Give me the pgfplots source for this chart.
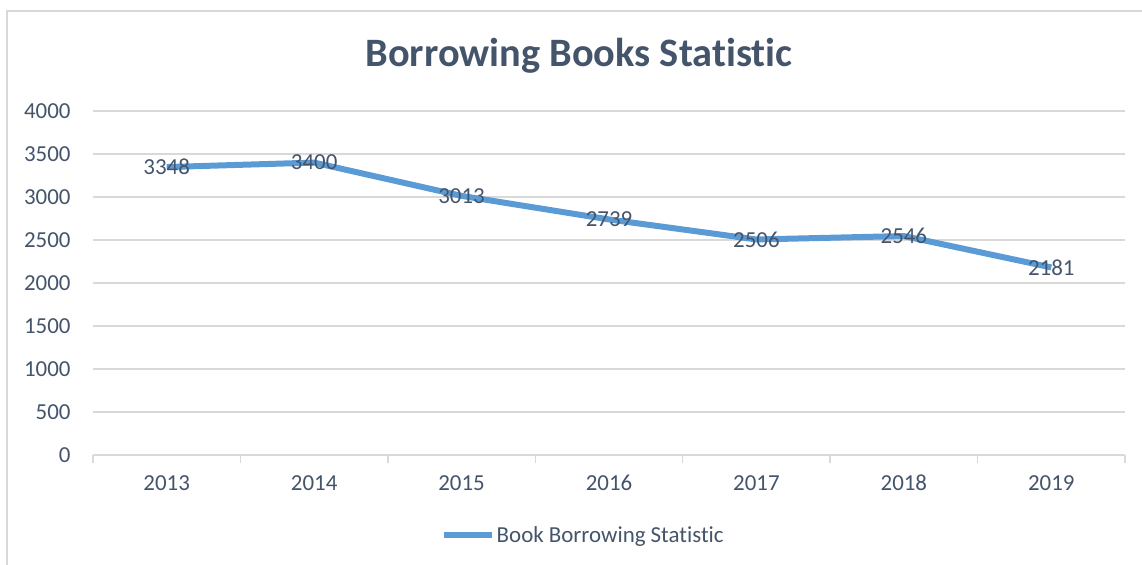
\documentclass[border=0pt]{standalone}
\usepackage{fontspec}
\setmainfont{Carlito}[Ligatures=NoCommon]
\usepackage{pgfplots}
\pgfplotsset{compat=1.18}
\definecolor{txt}{RGB}{68,84,106}
\definecolor{gridc}{RGB}{217,217,217}
\definecolor{lineblue}{RGB}{91,155,213}
\begin{document}
\begin{tikzpicture}[x=1bp,y=1bp]
\useasboundingbox (0,0) rectangle (1142,565);
\draw[gridc, line width=1.5bp] (7,-5) -- (7,554) -- (1150,554);
\node[text=txt, font=\fontsize{40.5}{48}\selectfont\bfseries] at (579,509) {Borrowing Books Statistic};
\begin{axis}[
  at={(93bp,110bp)}, anchor=south west,
  scale only axis, width=1032bp, height=344bp,
  xmin=-0.5, xmax=6.5, ymin=0, ymax=4000,
  ytick={0,500,...,4000},
  xtick={0,...,6},
  xticklabels={2013,2014,2015,2016,2017,2018,2019},
  minor xtick={-0.5,0.5,...,6.5},
  major tick length=0pt, minor tick length=8bp,
  tick align=outside,
  minor tick style={gridc, line width=1.5bp},
  axis x line*=bottom, axis y line*=left,
  x axis line style={gridc, line width=1.5bp, -},
  y axis line style={draw=none},
  ymajorgrids, y grid style={gridc, line width=1.5bp},
  tick label style={text=txt, font=\fontsize{23}{28}\selectfont},
  /pgf/number format/assume math mode=true,
  /pgf/number format/1000 sep={},
  xticklabel style={anchor=base, yshift=-36bp},
  yticklabel style={xshift=-19bp},
  nodes near coords,
  nodes near coords style={anchor=center, text=txt, font=\fontsize{23}{28}\selectfont,
    /pgf/number format/1000 sep={}, /pgf/number format/assume math mode=true},
  legend style={draw=none, fill=none, at={(0.475,-0.2326)}, anchor=center,
    font=\fontsize{23}{27}\selectfont, text=txt},
  legend image code/.code={\draw[#1, line width=6bp] (0bp,0bp) -- (48bp,0bp);},
]
\addplot[lineblue, line width=6bp] coordinates {
(0,3348) (1,3400) (2,3013) (3,2739) (4,2506) (5,2546) (6,2181)
};
\addlegendentry{Book Borrowing Statistic}
\end{axis}
\end{tikzpicture}
\end{document}
